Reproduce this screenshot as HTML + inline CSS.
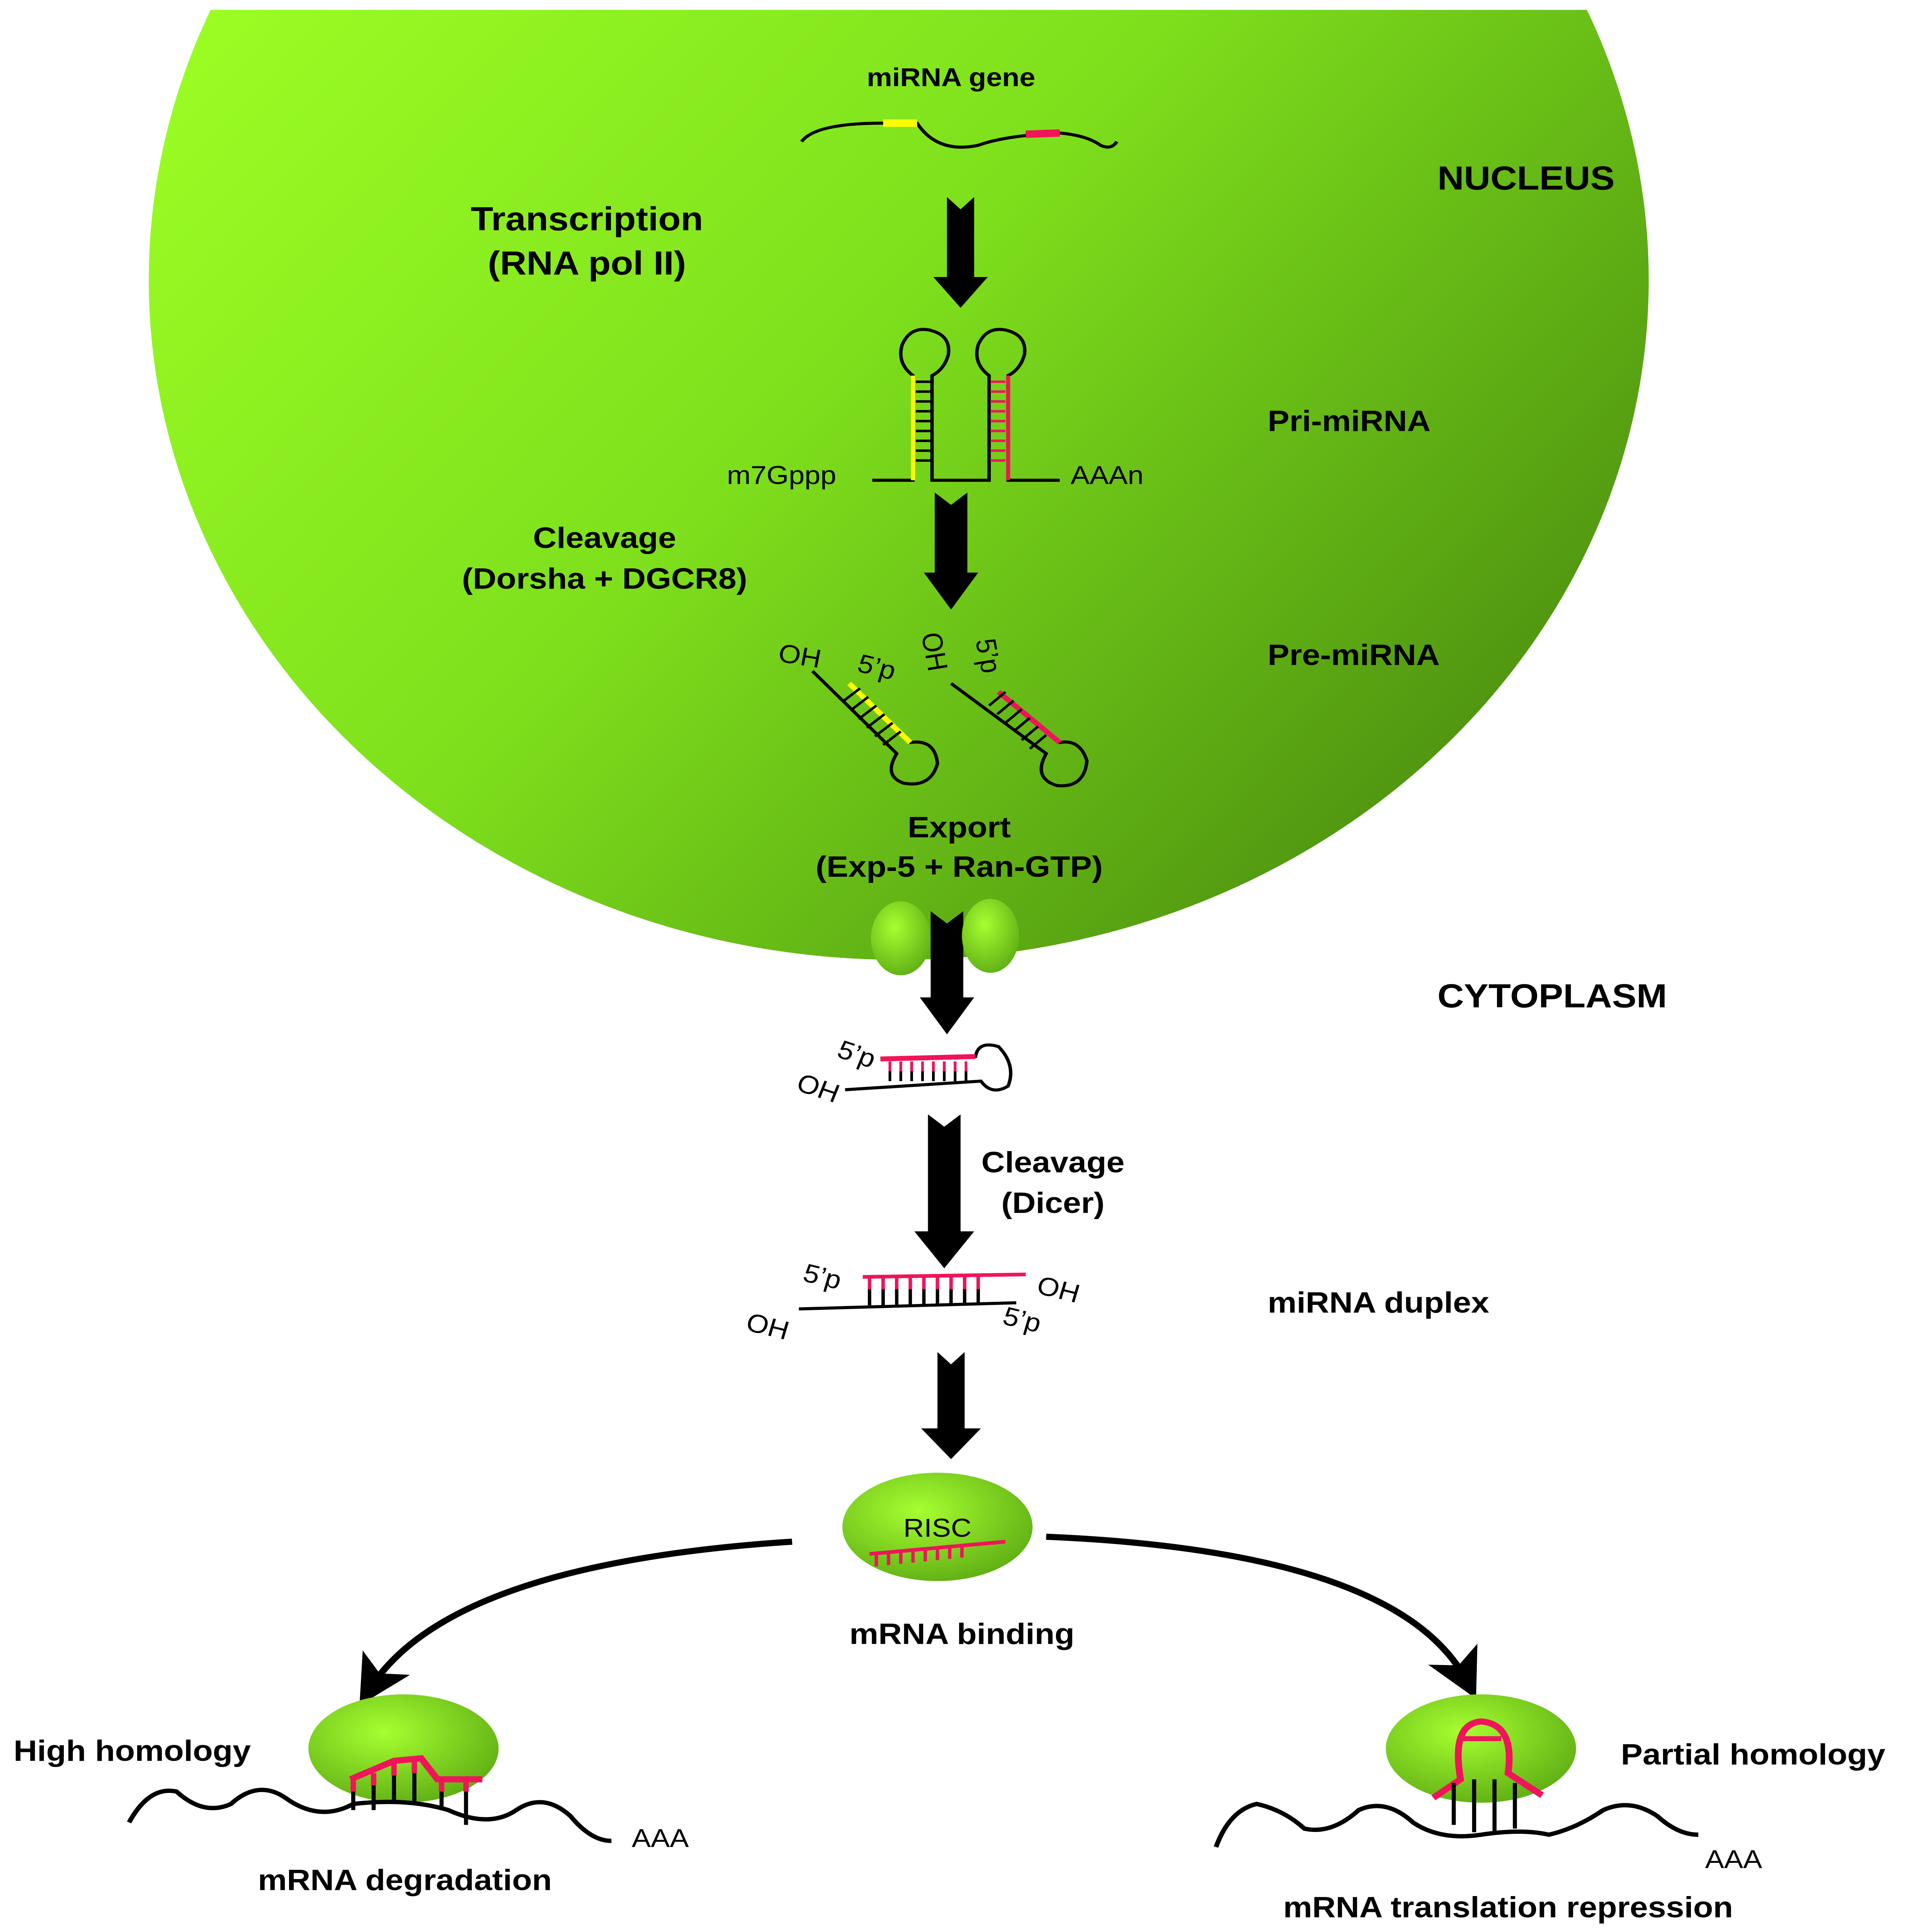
<!DOCTYPE html>
<html><head><meta charset="utf-8"><style>html,body{margin:0;padding:0;background:#fff;overflow:hidden;width:100vw;height:100vh}svg{display:block;width:100vw;height:100vh}</style></head><body>
<svg viewBox="0 0 1422 1569" preserveAspectRatio="none" xmlns="http://www.w3.org/2000/svg" style="font-family:'Liberation Sans', Arial, sans-serif">
<defs>
<linearGradient id="g" x1="0" y1="0" x2="1" y2="0.6">
<stop offset="0" stop-color="#9cff24"/><stop offset="0.5" stop-color="#7ee01c"/><stop offset="1" stop-color="#4f9410"/></linearGradient>
<radialGradient id="e" cx="0.4" cy="0.35" r="0.7"><stop offset="0" stop-color="#a6ff30"/><stop offset="1" stop-color="#5fae14"/></radialGradient>
<marker id="ah" markerWidth="8" markerHeight="8" refX="5" refY="4" orient="auto" markerUnits="strokeWidth"><path d="M0,0 L8,4 L0,8 L2,4z" fill="#000"/></marker>
</defs>
<rect width="1422" height="1569" fill="#fff"/>
<path d="M155,8 L1168,8 A552,552 0 1 1 155,8 Z" fill="url(#g)"/>
<ellipse cx="690" cy="1240" rx="70" ry="44" fill="url(#e)"/>
<g font-weight="bold" fill="#000">
<text x="700" y="70" font-size="21" text-anchor="middle">miRNA gene</text>
<text x="1058" y="154" font-size="27">NUCLEUS</text>
<text x="432" y="187" font-size="27" text-anchor="middle">Transcription</text>
<text x="432" y="223" font-size="27" text-anchor="middle">(RNA pol II)</text>
<text x="933" y="350" font-size="24">Pri-miRNA</text>
<text x="445" y="445" font-size="24" text-anchor="middle">Cleavage</text>
<text x="445" y="478" font-size="24" text-anchor="middle">(Dorsha + DGCR8)</text>
<text x="933" y="540" font-size="24">Pre-miRNA</text>
<text x="706" y="680" font-size="24" text-anchor="middle">Export</text>
<text x="706" y="712" font-size="24" text-anchor="middle">(Exp-5 + Ran-GTP)</text>
<text x="1058" y="818" font-size="27">CYTOPLASM</text>
<text x="775" y="952" font-size="24" text-anchor="middle">Cleavage</text>
<text x="775" y="985" font-size="24" text-anchor="middle">(Dicer)</text>
<text x="933" y="1066" font-size="24">miRNA duplex</text>
<text x="708" y="1335" font-size="24" text-anchor="middle">mRNA binding</text>
<text x="10" y="1430" font-size="24">High homology</text>
<text x="1193" y="1433" font-size="24">Partial homology</text>
<text x="298" y="1535" font-size="24" text-anchor="middle">mRNA degradation</text>
<text x="1110" y="1557" font-size="24" text-anchor="middle">mRNA translation repression</text>
</g>
<g font-size="21" fill="#000">
<text x="535" y="393">m7Gppp</text><text x="788" y="393">AAAn</text>
<text x="572" y="537" transform="rotate(10 572 537)">OH</text>
<text x="630" y="545" transform="rotate(15 630 545)">5’p</text>
<text x="678" y="515" transform="rotate(80 678 515)">OH</text>
<text x="718" y="520" transform="rotate(80 718 520)">5’p</text>
<text x="615" y="858" transform="rotate(20 615 858)">5’p</text>
<text x="585" y="885" transform="rotate(20 585 885)">OH</text>
<text x="590" y="1040" transform="rotate(15 590 1040)">5’p</text>
<text x="762" y="1050" transform="rotate(15 762 1050)">OH</text>
<text x="548" y="1080" transform="rotate(15 548 1080)">OH</text>
<text x="737" y="1075" transform="rotate(15 737 1075)">5’p</text>
<text x="465" y="1500">AAA</text><text x="1255" y="1517">AAA</text>
<text x="690" y="1248" text-anchor="middle">RISC</text>
</g>
<path d="M590,115 Q600,100 650,100 L675,100 Q690,125 720,118 Q740,110 780,108 Q800,110 810,118 Q818,122 822,115" fill="none" stroke="#000" stroke-width="2.5"/>
<path d="M650,100 L675,100" stroke="#ff0" stroke-width="6"/><path d="M755,109 L780,108" stroke="#f0145a" stroke-width="6"/>
<g fill="#000">
<path d="M697,160 L707,170 L717,160 L717,225 L727,225 L707,250 L687,225 L697,225Z"/>
<path d="M688,400 L700,410 L712,400 L712,465 L720,465 L700,495 L680,465 L688,465Z"/>
<path d="M685,740 L697,750 L709,740 L709,810 L717,810 L697,840 L677,810 L685,810Z"/>
<path d="M683,905 L695,915 L707,905 L707,1000 L717,1000 L695,1030 L673,1000 L683,1000Z"/>
<path d="M690,1098 L700,1108 L710,1098 L710,1160 L722,1160 L700,1185 L678,1160 L690,1160Z"/>
</g>
<g fill="none" stroke="#000" stroke-width="2.5">
<path d="M642,390 L672,390 L672,305 Q660,295 664,280 Q670,265 684,268 Q700,272 698,288 Q695,300 686,305 L686,390 L728,390 L728,305 Q716,295 720,280 Q726,265 740,268 Q756,272 754,288 Q751,300 742,305 L742,390 L780,390"/>
</g>
<path d="M672,305 V390" stroke="#ff0" stroke-width="3"/><path d="M742,305 V390" stroke="#f0145a" stroke-width="3"/>
<path d="M674,310 H685 M674,318 H685 M674,326 H685 M674,334 H685 M674,342 H685 M674,350 H685 M674,358 H685 M674,366 H685 M674,374 H685" stroke="#000" stroke-width="2"/>
<path d="M729,310 H740 M729,318 H740 M729,326 H740 M729,334 H740 M729,342 H740 M729,350 H740 M729,358 H740 M729,366 H740 M729,374 H740" stroke="#f0145a" stroke-width="2"/>
<g fill="none" stroke-width="2.5">
<path d="M598,545 L660,612 Q650,630 665,636 Q685,640 690,620 Q688,600 670,603 L625,555" stroke="#000"/>
<path d="M625,555 L670,603" stroke="#ff0" stroke-width="4"/>
<path d="M700,555 L770,612 Q760,632 778,638 Q798,640 800,618 Q795,600 780,603 L735,562" stroke="#000"/>
<path d="M735,562 L780,603" stroke="#f0145a" stroke-width="4"/>
<path d="M620,570 L633,559 M626,577 L639,566 M632,584 L645,573 M638,591 L651,580 M644,598 L657,587 M650,605 L663,594" stroke="#000" stroke-width="2"/>
<path d="M728,573 L740,562 M734,580 L746,569 M740,587 L752,576 M746,594 L758,583 M752,601 L764,590 M758,608 L770,597" stroke="#000" stroke-width="2"/>
</g>
<ellipse cx="663" cy="762" rx="22" ry="30" fill="url(#e)"/><ellipse cx="729" cy="760" rx="21" ry="30" fill="url(#e)"/>
<g fill="none" stroke-width="2.5">
<path d="M622,885 L722,878 Q730,890 742,882 Q748,865 735,850 Q720,845 718,858 L648,860" stroke="#000"/>
<path d="M648,860 L718,858" stroke="#f0145a" stroke-width="4"/>
<path d="M655,862V878 M663,862V878 M671,862V878 M679,862V878 M687,862V878 M695,862V878 M703,862V878 M711,862V878" stroke="#000" stroke-width="2"/>
<path d="M655,862V870 M663,862V870 M671,862V870 M679,862V870 M687,862V870 M695,862V870 M703,862V870 M711,862V870" stroke="#f0145a" stroke-width="2"/>
</g>
<path d="M588,1063 L748,1058" stroke="#000" stroke-width="2.5"/>
<path d="M635,1037 L755,1035" stroke="#f0145a" stroke-width="3"/>
<path d="M640,1037V1060 M650,1037V1060 M660,1037V1060 M670,1037V1060 M680,1037V1060 M690,1037V1060 M700,1037V1060 M710,1037V1060 M720,1037V1060" stroke="#000" stroke-width="2.5"/>
<path d="M640,1037V1047 M650,1037V1047 M660,1037V1047 M670,1037V1047 M680,1037V1047 M690,1037V1047 M700,1037V1047 M710,1037V1047 M720,1037V1047" stroke="#f0145a" stroke-width="2.5"/>
<path d="M640,1262 L740,1252" stroke="#f0145a" stroke-width="3"/>
<path d="M645,1262V1272 M654,1261V1271 M663,1260V1270 M672,1259V1269 M681,1258V1268 M690,1257V1267 M699,1256V1266 M708,1255V1265" stroke="#f0145a" stroke-width="2.5"/>
<path d="M583,1252 Q330,1270 272,1372" fill="none" stroke="#000" stroke-width="5" marker-end="url(#ah)"/>
<path d="M770,1248 Q1030,1260 1080,1366" fill="none" stroke="#000" stroke-width="5" marker-end="url(#ah)"/>
<ellipse cx="297" cy="1420" rx="70" ry="44" fill="url(#e)"/>
<path d="M95,1480 Q110,1450 130,1455 Q150,1475 170,1465 Q190,1445 210,1460 Q235,1480 260,1465 Q300,1460 330,1470 Q360,1485 380,1470 Q400,1455 420,1475 Q435,1495 450,1495" fill="none" stroke="#000" stroke-width="3.5"/>
<path d="M258,1445 L290,1430 L310,1428 L322,1445 L355,1445" fill="none" stroke="#f0145a" stroke-width="5"/>
<path d="M260,1445V1470 M275,1440V1470 M290,1432V1465 M305,1430V1465 M325,1445V1470 M343,1445V1482" stroke="#000" stroke-width="3"/>
<path d="M260,1445V1455 M275,1440V1450 M290,1432V1442 M305,1430V1440 M325,1445V1455 M343,1445V1455" stroke="#f0145a" stroke-width="4"/>
<ellipse cx="1090" cy="1420" rx="70" ry="44" fill="url(#e)"/>
<path d="M895,1500 Q905,1470 925,1465 Q945,1470 960,1485 Q980,1490 1000,1470 Q1020,1460 1040,1480 Q1060,1495 1090,1490 Q1120,1485 1140,1490 Q1160,1485 1180,1470 Q1200,1460 1220,1475 Q1235,1490 1250,1490" fill="none" stroke="#000" stroke-width="3.5"/>
<path d="M1055,1460 L1075,1445 Q1068,1400 1090,1398 Q1115,1400 1110,1440 L1135,1458" fill="none" stroke="#f0145a" stroke-width="5"/>
<path d="M1073,1412 H1105" stroke="#f0145a" stroke-width="4"/>
<path d="M1070,1448V1482 M1085,1445V1488 M1100,1445V1490 M1115,1448V1485" stroke="#000" stroke-width="3"/>
</svg>
</body></html>
